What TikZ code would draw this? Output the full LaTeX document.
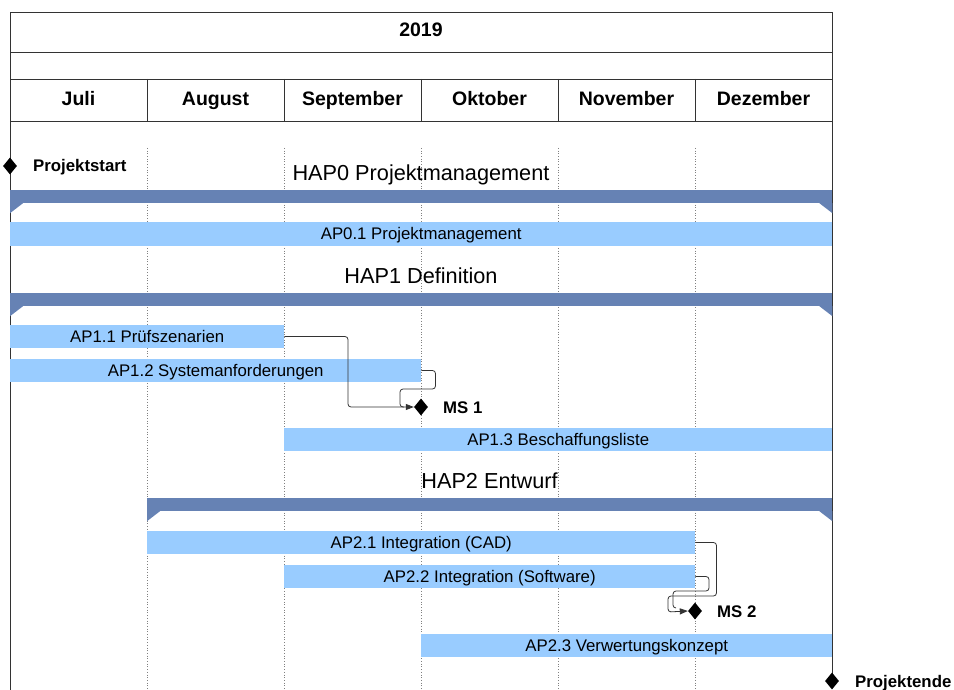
\documentclass[tikz,border=0pt]{standalone}
\usepackage{fontspec}
\setmainfont{Liberation Sans}
\usetikzlibrary{shapes.geometric,arrows.meta}
\definecolor{hapblue}{HTML}{6682B4}
\definecolor{apblue}{HTML}{99CCFF}
\definecolor{frame}{HTML}{333333}
\tikzset{
  frameline/.style={draw=frame,line width=0.9pt},
  gridline/.style={draw=black!50,line width=0.7pt,dotted},
  capcentred/.style={text height=#1,text depth=0pt},
  monthlbl/.style={font=\bfseries\fontsize{19.5}{22}\selectfont,anchor=center,capcentred=14pt,inner sep=0pt},
  aplbl/.style={font=\fontsize{16.8}{19}\selectfont,capcentred=12pt},
  apbar/.style={fill=apblue,draw=none,minimum height=23pt,inner sep=0pt,anchor=west,aplbl},
  hapband/.style={fill=hapblue,draw=none,minimum height=13pt,inner sep=0pt,anchor=west},
  haplbl/.style={font=\fontsize{21.7}{25}\selectfont,inner sep=0pt,capcentred=15.6pt},
  msdiamond/.style={diamond,fill=black,draw=none,inner sep=0pt,minimum width=14pt,minimum height=17pt},
  mslbl/.style={font=\bfseries\fontsize{16.8}{19}\selectfont,anchor=west,inner sep=0pt,capcentred=12pt},
  conn/.style={draw=frame,line width=0.8pt,rounded corners=3pt,-{Triangle[length=8pt,width=6pt]}},
  connplain/.style={draw=frame,line width=0.8pt,rounded corners=3pt},
}
\begin{document}
\begin{tikzpicture}[x=1pt,y=-1pt]
\useasboundingbox (0,0) rectangle (954,690);

% month grid (dotted) below the bars
\foreach \gx in {147,284,421,558,695}
  \draw[gridline] (\gx,148) -- (\gx,690);

% header table
\draw[frameline] (10,12) rectangle (832,121);
\draw[frameline] (10,52) -- (832,52);
\draw[frameline] (10,79) -- (832,79);
\foreach \gx in {147,284,421,558,695}
  \draw[frameline] (\gx,79) -- (\gx,121);
\node[monthlbl] (year) at (421,30) {2019};
\node[monthlbl] (m7) at (78.5,99) {Juli};
\node[monthlbl] (m8) at (215.5,99) {August};
\node[monthlbl] (m9) at (352.5,99) {September};
\node[monthlbl] (m10) at (489.5,99) {Oktober};
\node[monthlbl] (m11) at (626.5,99) {November};
\node[monthlbl] (m12) at (763.5,99) {Dezember};

% outer time axis lines
\draw[frameline] (10,121) -- (10,690);
\draw[frameline] (832,121) -- (832,681);

% HAP0
\node[haplbl] (hap0lbl) at (421,173) {HAP0 Projektmanagement};
\node[hapband,minimum width=822pt] (hap0) at (10,196.5) {};
\fill[hapblue] (hap0.south west) -- ++(13,0) -- ++(-13,10) -- cycle;
\fill[hapblue] (hap0.south east) -- ++(-13,0) -- ++(13,10) -- cycle;
\node[apbar,minimum width=822pt] (ap01) at (10,234) {AP0.1 Projektmanagement};

% HAP1
\node[haplbl] (hap1lbl) at (421,276) {HAP1 Definition};
\node[hapband,minimum width=822pt] (hap1) at (10,299.5) {};
\fill[hapblue] (hap1.south west) -- ++(13,0) -- ++(-13,10) -- cycle;
\fill[hapblue] (hap1.south east) -- ++(-13,0) -- ++(13,10) -- cycle;
\node[apbar,minimum width=274pt] (ap11) at (10,336.5) {AP1.1 Prüfszenarien};
\node[apbar,minimum width=411pt] (ap12) at (10,370.5) {AP1.2 Systemanforderungen};
\node[apbar,minimum width=548pt] (ap13) at (284,439.5) {AP1.3 Beschaffungsliste};

% HAP2
\node[haplbl] (hap2lbl) at (489.5,481) {HAP2 Entwurf};
\node[hapband,minimum width=685pt] (hap2) at (147,504.5) {};
\fill[hapblue] (hap2.south west) -- ++(13,0) -- ++(-13,10) -- cycle;
\fill[hapblue] (hap2.south east) -- ++(-13,0) -- ++(13,10) -- cycle;
\node[apbar,minimum width=548pt] (ap21) at (147,542.5) {AP2.1 Integration (CAD)};
\node[apbar,minimum width=411pt] (ap22) at (284,576.5) {AP2.2 Integration (Software)};
\node[apbar,minimum width=411pt] (ap23) at (421,645) {AP2.3 Verwertungskonzept};

% milestones
\node[msdiamond] (start) at (10,166) {};
\node[mslbl] (startlbl) at (33,166) {Projektstart};
\node[msdiamond] (ms1) at (421,407) {};
\node[mslbl] (ms1lbl) at (443,407) {MS 1};
\node[msdiamond] (ms2) at (695,611) {};
\node[mslbl] (ms2lbl) at (717,611) {MS 2};
\node[msdiamond] (ende) at (832,681) {};
\node[mslbl] (endelbl) at (855,681) {Projektende};

% dependencies
\draw[conn] (ap11.east) -- (348,336.5) -- (348,407) -- (ms1.west);
\draw[connplain] (ap12.east) -- (435.5,370.5) -- (435.5,389) -- (400,389) -- (400,407) -- (404,407);
\draw[conn] (ap21.east) -- (716.5,542.5) -- (716.5,596) -- (668,596) -- (668,612) -- (ms2.west);
\draw[connplain] (ap22.east) -- (709,576.5) -- (709,591) -- (673,591) -- (673,608) -- (676,608);
\end{tikzpicture}
\end{document}
